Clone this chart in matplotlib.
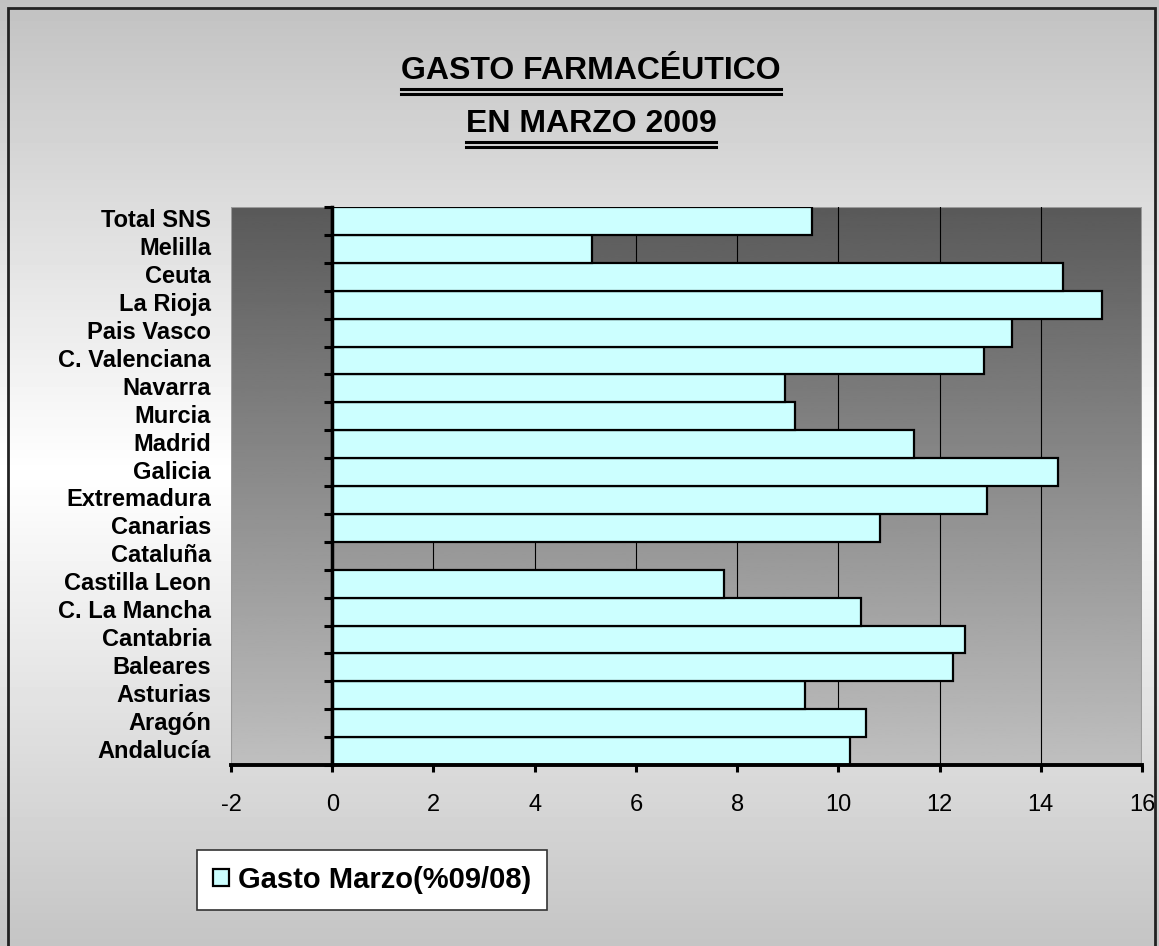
import matplotlib.pyplot as plt
import numpy as np
from matplotlib.patches import Rectangle
from matplotlib.lines import Line2D

# data, bottom to top as drawn
regiones = ['Andalucía', 'Aragón', 'Asturias', 'Baleares', 'Cantabria',
            'C. La Mancha', 'Castilla Leon', 'Cataluña', 'Canarias',
            'Extremadura', 'Galicia', 'Madrid', 'Murcia', 'Navarra',
            'C. Valenciana', 'Pais Vasco', 'La Rioja', 'Ceuta', 'Melilla',
            'Total SNS']
gasto_marzo = [10.24, 10.55, 9.35, 12.27, 12.51,
               10.45, 7.75, np.nan, 10.83,
               12.94, 14.35, 11.5, 9.15, 8.95,
               12.88, 13.44, 15.2, 14.43, 5.14,
               9.48]
x_ticks = [-2, 0, 2, 4, 6, 8, 10, 12, 14, 16]
serie = 'Gasto Marzo(%09/08)'
titulo = ['GASTO FARMACÉUTICO', 'EN MARZO 2009']

plt.rcParams['font.family'] = ['Liberation Sans', 'DejaVu Sans']

fig = plt.figure(figsize=(11.59, 9.46), dpi=100)

# outer background: gray -> white -> gray
bg = fig.add_axes([0, 0, 1, 1], zorder=-10)
t = np.linspace(0, 1, 256)
shade = np.interp(t, [0, 0.5, 1], [0.77, 1.0, 0.76])
bg.imshow(np.repeat(shade[:, None], 2, axis=1), cmap='gray', vmin=0, vmax=1,
          aspect='auto', extent=[0, 1, 0, 1], origin='lower')
bg.set_xlim(0, 1)
bg.set_ylim(0, 1)
bg.axis('off')

# frame round the chart
fig.add_artist(Rectangle((8 / 1159, -0.02), 1147 / 1159, 1 - 8 / 946 + 0.02,
                         transform=fig.transFigure, fill=False,
                         edgecolor='#222222', linewidth=2))

ax = fig.add_axes([231 / 1159, 1 - 765 / 946, 911 / 1159, 558 / 946])
ax.set_facecolor('none')

# plot area gradient, dark at top
g = np.linspace(0.75, 0.35, 256)
ax.imshow(g[:, None], cmap='gray', vmin=0, vmax=1, aspect='auto',
          extent=[0, 1, 0, 1], origin='lower', transform=ax.transAxes,
          zorder=0)
ax.add_patch(Rectangle((0, 0), 1, 1, transform=ax.transAxes, fill=False,
                       edgecolor='#9a9a9a', linewidth=1.5, zorder=1))

y = np.arange(len(regiones))
bars = ax.barh(y, gasto_marzo, height=1.0, color='#CCFFFF',
               edgecolor='black', linewidth=1.6, zorder=3, label=serie)

ax.set_xlim(x_ticks[0], x_ticks[-1])
ax.set_ylim(-0.5, len(regiones) - 0.5)

for xv in x_ticks[2:-1]:
    ax.axvline(xv, color='black', linewidth=0.8, zorder=2)

ax.spines['top'].set_visible(False)
ax.spines['right'].set_visible(False)
ax.spines['left'].set_position(('data', 0))
ax.spines['left'].set_linewidth(2.5)
ax.spines['left'].set_zorder(4)
ax.spines['bottom'].set_linewidth(2.8)
ax.spines['bottom'].set_zorder(4)

ax.set_xticks(x_ticks)
ax.set_xticklabels([str(v) for v in x_ticks], fontsize=17)
ax.tick_params(axis='x', direction='out', length=5, width=2.2, pad=16)

ax.set_yticks(np.arange(-0.5, len(regiones), 1.0))
ax.set_yticklabels([])
ax.tick_params(axis='y', direction='out', length=6, width=2.2)

for yi, nombre in zip(y, regiones):
    ax.text(-0.022, yi, nombre, transform=ax.get_yaxis_transform(),
            ha='right', va='center', fontsize=17, fontweight='bold')

# title with double underline
fig.canvas.draw()
renderer = fig.canvas.get_renderer()
for ty, linea in zip([0.925, 0.869], titulo):
    txt = fig.text(0.51, ty, linea, ha='center', va='center',
                   fontsize=23, fontweight='bold')
    bb = txt.get_window_extent(renderer=renderer)
    x0, x1 = bb.x0 / fig.bbox.width, bb.x1 / fig.bbox.width
    for off in (3, 8):
        yy = (bb.y0 - off) / fig.bbox.height
        fig.add_artist(Line2D([x0, x1], [yy, yy], color='black',
                              linewidth=2.2, transform=fig.transFigure))

leg = fig.legend(handles=[bars], loc='lower left',
                 bbox_to_anchor=(197 / 1159, 1 - 910 / 946),
                 borderaxespad=0, fancybox=False, framealpha=1,
                 edgecolor='#333333', facecolor='white',
                 prop={'size': 21, 'weight': 'bold'},
                 handlelength=0.55, handleheight=0.55, handletextpad=0.3,
                 borderpad=0.55)
leg.get_frame().set_linewidth(1.2)

fig.savefig('out.png', dpi=100)
